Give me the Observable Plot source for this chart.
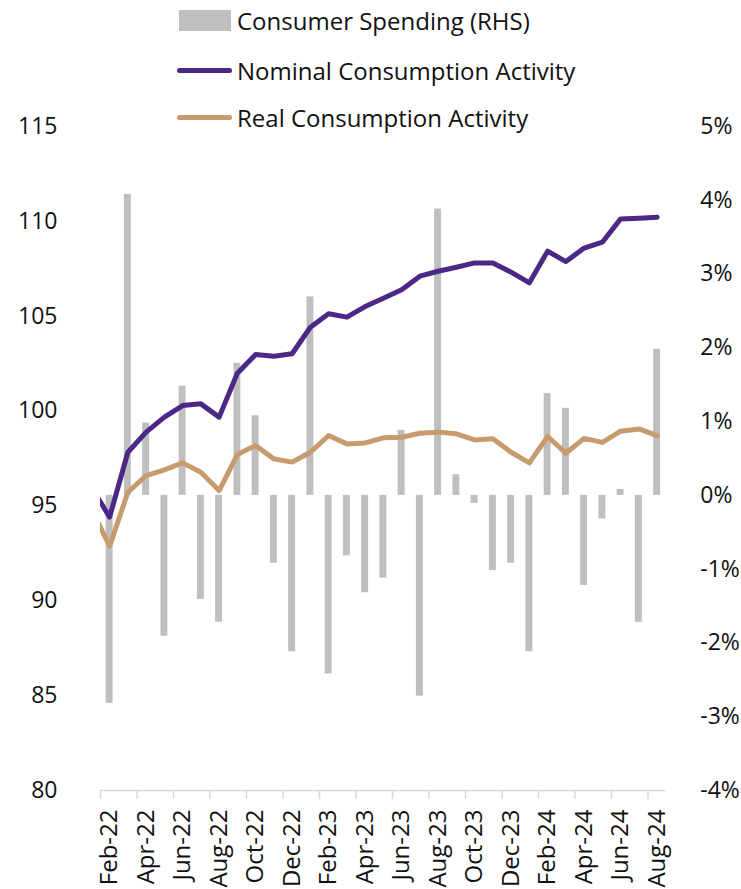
<!DOCTYPE html>
<html>
<head>
<meta charset="utf-8">
<script src="https://cdn.jsdelivr.net/npm/d3@7"></script>
<script src="https://cdn.jsdelivr.net/npm/@observablehq/plot@0.6"></script>
<style>
  html, body { margin: 0; padding: 0; background: #fff; }
  #wrap { position: relative; width: 741px; height: 889px; font-family: "Open Sans", sans-serif; }
  #legend { position: absolute; left: 177px; top: 0; font-size: 24px; color: #111; }
  .row { position: absolute; left: 0; height: 30px; display: flex; align-items: center; white-space: nowrap; }
  .sw-box { width: 52px; height: 21px; background: #bfbfbf; margin-right: 6px; margin-left: 2px; }
  .sw-line { width: 55px; height: 5px; border-radius: 3px; margin-right: 5px; }
</style>
</head>
<body>
<div id="wrap">
  <div id="chart"></div>
  <div id="legend"></div>
</div>
<script>
// Monthly category labels (bars): Feb-22 .. Aug-24
const months = ["Feb-22","Mar-22","Apr-22","May-22","Jun-22","Jul-22","Aug-22","Sep-22","Oct-22","Nov-22","Dec-22",
  "Jan-23","Feb-23","Mar-23","Apr-23","May-23","Jun-23","Jul-23","Aug-23","Sep-23","Oct-23","Nov-23","Dec-23",
  "Jan-24","Feb-24","Mar-24","Apr-24","May-24","Jun-24","Jul-24","Aug-24"];

// Consumer spending, % m/m (RHS)
const spending = [-2.82, 4.08, 0.98, -1.91, 1.48, -1.41, -1.72, 1.79, 1.08, -0.92, -2.12,
  2.69, -2.42, -0.82, -1.32, -1.12, 0.88, -2.72, 3.88, 0.28, -0.11, -1.02, -0.92,
  -2.12, 1.38, 1.18, -1.22, -0.32, 0.08, -1.72, 1.98];

// Line series start one month earlier (Jan-22), partly outside the visible axis
const lineMonths = ["Jan-22"].concat(months);
const nominal = [96.0, 94.41, 97.83, 98.89, 99.68, 100.29, 100.38, 99.68, 102.0, 102.98, 102.89, 103.02,
  104.42, 105.13, 104.95, 105.51, 105.95, 106.39, 107.11, 107.37, 107.58, 107.81, 107.81, 107.32,
  106.76, 108.43, 107.88, 108.59, 108.90, 110.13, 110.17, 110.22];
const real = [94.85, 92.88, 95.72, 96.60, 96.90, 97.27, 96.78, 95.81, 97.71, 98.19, 97.48, 97.31,
  97.83, 98.71, 98.27, 98.32, 98.59, 98.62, 98.83, 98.89, 98.80, 98.48, 98.54, 97.83,
  97.27, 98.66, 97.78, 98.56, 98.35, 98.94, 99.06, 98.71];

const leftTicks = [80, 85, 90, 95, 100, 105, 110, 115];
const rightTicks = [-4, -3, -2, -1, 0, 1, 2, 3, 4, 5];

// Right axis (%) mapped onto the left scale: -4% -> 80, 5% -> 115
const L0 = 80, L1 = 115, R0 = -4, R1 = 5;
const toLeft = p => L0 + (p - R0) * (L1 - L0) / (R1 - R0);
const fromLeft = v => R0 + (v - L0) * (R1 - R0) / (L1 - L0);

const barData = months.map((m, i) => ({i, m, v: spending[i]}));
const lineData = lineMonths.flatMap((m, k) => [
  {i: k - 1, m, v: nominal[k], s: "Nominal"},
  {i: k - 1, m, v: real[k], s: "Real"}
]);
const boundaries = months.map((m, i) => i - 0.5).filter((d, k) => k % 2 === 0);
const labelIdx = months.map((m, i) => i).filter(i => i % 2 === 0);

const PURPLE = "#4b2885", TAN = "#c89b6e", GREY = "#bfbfbf", AXIS = "#d9d9d9";
const halfW = 0.19;

const chart = Plot.plot({
  width: 741,
  height: 889,
  marginLeft: 100,
  marginRight: 75.25,
  marginTop: 126,
  marginBottom: 99,
  style: {fontFamily: "Open Sans, sans-serif", fontSize: "23px", color: "#111", background: "transparent"},
  x: {type: "linear", domain: [-0.5, months.length - 0.5]},
  y: {domain: [L0, L1]},
  marks: [
    Plot.rectY(barData, {
      x1: d => d.i - halfW, x2: d => d.i + halfW,
      y1: () => toLeft(0), y2: d => toLeft(d.v),
      fill: GREY
    }),
    Plot.ruleY([L0], {stroke: AXIS, strokeWidth: 1.5}),
    Plot.line(lineData.filter(d => d.s === "Real"), {x: "i", y: "v", stroke: TAN, strokeWidth: 5, clip: true, strokeLinejoin: "round"}),
    Plot.line(lineData.filter(d => d.s === "Nominal"), {x: "i", y: "v", stroke: PURPLE, strokeWidth: 5, clip: true, strokeLinejoin: "round"}),
    Plot.axisY(leftTicks, {anchor: "left", tickSize: 0, tickPadding: 43, fontSize: 23, label: null}),
    Plot.axisY(rightTicks.map(toLeft), {anchor: "right", tickSize: 0, tickPadding: 34, fontSize: 23, label: null,
      tickFormat: v => `${Math.round(fromLeft(v))}%`}),
    Plot.axisX(boundaries, {anchor: "bottom", tickSize: 9, stroke: AXIS, strokeWidth: 1.5, tickFormat: () => "", label: null}),
    Plot.axisX(labelIdx, {anchor: "bottom", tickSize: 0, tickPadding: 19, tickRotate: -90, fontSize: 24, label: null,
      tickFormat: i => months[i]})
  ]
});
document.getElementById("chart").appendChild(chart);

// Legend
const legendItems = [
  {label: "Consumer Spending (RHS)", kind: "box", color: GREY, top: 5},
  {label: "Nominal Consumption Activity", kind: "line", color: PURPLE, top: 55},
  {label: "Real Consumption Activity", kind: "line", color: TAN, top: 102}
];
const legend = d3.select("#legend");
legendItems.forEach(it => {
  const row = legend.append("div").attr("class", "row").style("top", it.top + "px");
  row.append("div").attr("class", it.kind === "box" ? "sw-box" : "sw-line").style("background", it.color);
  row.append("span").text(it.label);
});
</script>
</body>
</html>
